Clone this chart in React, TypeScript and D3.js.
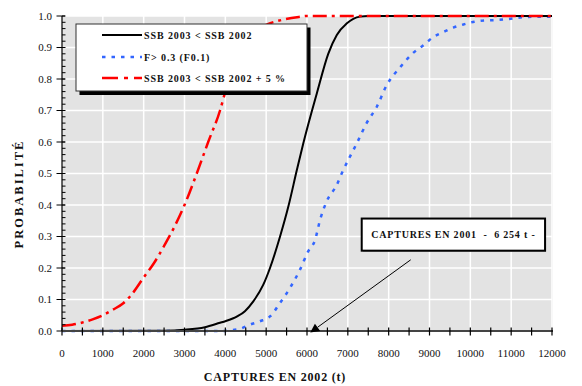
import React from "react";
import * as d3 from "d3";

// Catch in 2002 (t) and probability for each scenario
const ssbX = [0, 2500, 3000, 3500, 3870, 4000, 4300, 4480, 4685, 4930, 5094, 5340, 5543, 5750, 5910, 6240, 6520, 6730, 6970, 7300, 7500, 12000];
const ssbP = [0, 0.001, 0.004, 0.012, 0.026, 0.031, 0.047, 0.063, 0.094, 0.147, 0.2, 0.3, 0.395, 0.51, 0.596, 0.754, 0.88, 0.94, 0.976, 0.998, 1.0, 1.0];

const fX = [0, 3900, 4100, 4360, 4600, 4850, 5100, 5340, 5585, 5830, 6030, 6200, 6320, 6480, 6730, 6850, 7220, 7460, 7710, 7950, 8300, 8600, 8850, 9090, 9340, 9580, 9830, 10100, 10340, 10620, 10890, 11380, 12000];
const fP = [0, 0, 0.002, 0.007, 0.02, 0.031, 0.047, 0.089, 0.137, 0.195, 0.253, 0.29, 0.353, 0.411, 0.464, 0.5, 0.596, 0.66, 0.712, 0.78, 0.84, 0.883, 0.907, 0.933, 0.949, 0.963, 0.973, 0.982, 0.986, 0.987, 0.99, 0.997, 0.998];

const ssb5X = [0, 250, 500, 750, 1000, 1250, 1500, 1700, 2000, 2250, 2500, 2750, 3000, 3300, 3580, 3870, 4000, 4250, 4500, 4750, 5000, 5400, 5800, 6000, 12000];
const ssb5P = [0.017, 0.02, 0.027, 0.037, 0.05, 0.068, 0.088, 0.115, 0.17, 0.215, 0.27, 0.33, 0.4, 0.5, 0.6, 0.7, 0.76, 0.86, 0.92, 0.955, 0.972, 0.988, 0.997, 1.0, 1.0];

const seriesLabels = ["SSB 2003 < SSB 2002", "F> 0.3 (F0.1)", "SSB 2003 < SSB 2002 + 5 %"];
const xTickValues = [0, 1000, 2000, 3000, 4000, 5000, 6000, 7000, 8000, 9000, 10000, 11000, 12000];
const yTickValues = [0, 0.1, 0.2, 0.3, 0.4, 0.5, 0.6, 0.7, 0.8, 0.9, 1.0];

const catch2001Label = "CAPTURES EN 2001  -  6 254 t -";
const xTitle = "CAPTURES EN 2002 (t)";
const yTitle = "PROBABILITÉ";

const W = 582;
const H = 386;
const margin = { left: 62, right: 30, top: 16, bottom: 55 };

const SERIF = "'Liberation Serif', 'Times New Roman', serif";

export default function App() {
  const x = d3.scaleLinear().domain([0, 12000]).range([margin.left, W - margin.right]);
  const y = d3.scaleLinear().domain([0, 1]).range([H - margin.bottom, margin.top]);

  const line = d3
    .line<[number, number]>()
    .x((d) => x(d[0]))
    .y((d) => y(d[1]))
    .curve(d3.curveMonotoneX);

  const zip = (a: number[], b: number[]) => a.map((v, i) => [v, b[i]] as [number, number]);

  const x0 = x(0), x1 = x(12000), y0 = y(0), y1 = y(1);
  const minorX = d3.range(0, 12001, 500);
  const minorY = d3.range(0, 1.0001, 0.02);

  // annotation box and arrow (data units)
  const boxX0 = 7340, boxX1 = 11830, boxP0 = 0.357, boxP1 = 0.255;
  const arrowFrom: [number, number] = [8540, 0.226];
  const arrowTo: [number, number] = [6080, -0.005];

  const ax = x(arrowFrom[0]), ay = y(arrowFrom[1]);
  const tx = x(arrowTo[0]), ty = y(arrowTo[1]);
  const ang = Math.atan2(ty - ay, tx - ax);
  const hl = 9, hw = 4.5;
  const bx = tx - hl * Math.cos(ang), by = ty - hl * Math.sin(ang);
  const head = [
    [tx, ty],
    [bx + hw * Math.sin(ang), by - hw * Math.cos(ang)],
    [bx - hw * Math.sin(ang), by + hw * Math.cos(ang)],
  ]
    .map((p) => p.join(","))
    .join(" ");

  // legend layout
  const lg = { x: 76, y: 24, w: 231, h: 67 };
  const rows = [35, 57, 78];
  const styles = [
    { stroke: "#000", dash: "none", w: 2 },
    { stroke: "#3366ff", dash: "3.5,6", w: 2.5 },
    { stroke: "#ff0000", dash: "16,6,4,6", w: 2.5 },
  ];

  return (
    <svg
      width={W}
      height={H}
      style={{ position: "absolute", left: 0, top: 0, background: "#fff" }}
      fontFamily={SERIF}
    >
      <rect x={x0} y={y1} width={x1 - x0 + 1} height={y0 - y1} fill="#e3e3e3" />
      {xTickValues.slice(1).map((v) => (
        <line key={"gx" + v} x1={x(v)} x2={x(v)} y1={y1} y2={y0} stroke="#fff" strokeWidth={1.5} />
      ))}
      {yTickValues.slice(1).map((v) => (
        <line key={"gy" + v} x1={x0} x2={x1} y1={y(v)} y2={y(v)} stroke="#fff" strokeWidth={1.5} />
      ))}

      <path d={line(zip(fX, fP)) || ""} fill="none" stroke="#3366ff" strokeWidth={2.5} strokeDasharray="3.5,6" />
      <path d={line(zip(ssbX, ssbP)) || ""} fill="none" stroke="#000" strokeWidth={2} />
      <path d={line(zip(ssb5X, ssb5P)) || ""} fill="none" stroke="#ff0000" strokeWidth={2.5} strokeDasharray="14,5,3,5" />

      {/* y axis */}
      <line x1={x0} x2={x0} y1={y1} y2={y0} stroke="#000" strokeWidth={1.2} />
      {minorY.map((v, i) => (
        <line key={"my" + i} x1={x0} x2={x0 + 3.5} y1={y(v)} y2={y(v)} stroke="#000" strokeWidth={1} />
      ))}
      {yTickValues.map((v) => (
        <g key={"ty" + v}>
          <line x1={x0 - 5.5} x2={x0 + 3} y1={y(v)} y2={y(v)} stroke="#000" strokeWidth={1} />
          <text x={x0 - 10} y={y(v)} dy="0.35em" textAnchor="end" fontSize={11} fill="#111">
            {v.toFixed(1)}
          </text>
        </g>
      ))}

      {/* x axis */}
      <line x1={x0} x2={x1 + 1} y1={y0} y2={y0} stroke="#444" strokeWidth={2} />
      {minorX.map((v) => (
        <line key={"mx" + v} x1={x(v)} x2={x(v)} y1={y0 - 3.5} y2={y0 + 4.5} stroke="#000" strokeWidth={1.2} />
      ))}
      {xTickValues.map((v) => (
        <text key={"tx" + v} x={x(v)} y={y0 + 22} dy="0.35em" textAnchor="middle" fontSize={11} fill="#111">
          {v}
        </text>
      ))}

      <text x={275} y={381} textAnchor="middle" fontSize={12} fontWeight="bold" fill="#111" letterSpacing={0.8}>
        {xTitle}
      </text>
      <text
        transform={`translate(23,194) rotate(-90)`}
        textAnchor="middle"
        fontSize={12.5}
        fontWeight="bold"
        fill="#111"
        letterSpacing={2}
      >
        {yTitle}
      </text>

      {/* legend */}
      <rect x={lg.x + 3.5} y={lg.y + 3.5} width={lg.w} height={lg.h + 0.5} fill="#000" />
      <rect x={lg.x} y={lg.y} width={lg.w} height={lg.h} fill="#fff" stroke="#333" strokeWidth={1} />
      {seriesLabels.map((t, i) => (
        <g key={t}>
          <line
            x1={102}
            x2={142}
            y1={rows[i]}
            y2={rows[i]}
            stroke={styles[i].stroke}
            strokeWidth={styles[i].w}
            strokeDasharray={styles[i].dash}
          />
          <text x={144} y={rows[i]} dy="0.35em" fontSize={10} fontWeight="bold" fill="#111" letterSpacing={0.9}>
            {t}
          </text>
        </g>
      ))}

      {/* catch 2001 annotation */}
      <rect
        x={x(boxX0) + 1}
        y={y(boxP0) + 1}
        width={x(boxX1) - x(boxX0)}
        height={y(boxP1) - y(boxP0)}
        fill="#888"
      />
      <rect
        x={x(boxX0)}
        y={y(boxP0)}
        width={x(boxX1) - x(boxX0)}
        height={y(boxP1) - y(boxP0)}
        fill="#fff"
        stroke="#000"
        strokeWidth={2}
      />
      <text
        x={(x(boxX0) + x(boxX1)) / 2}
        y={(y(boxP0) + y(boxP1)) / 2}
        dy="0.35em"
        textAnchor="middle"
        fontSize={10}
        fontWeight="bold"
        fill="#111"
        letterSpacing={0.8}
        style={{ whiteSpace: "pre" }}
      >
        {catch2001Label}
      </text>
      <line x1={ax} y1={ay} x2={bx} y2={by} stroke="#000" strokeWidth={1} />
      <polygon points={head} fill="#000" />
    </svg>
  );
}
